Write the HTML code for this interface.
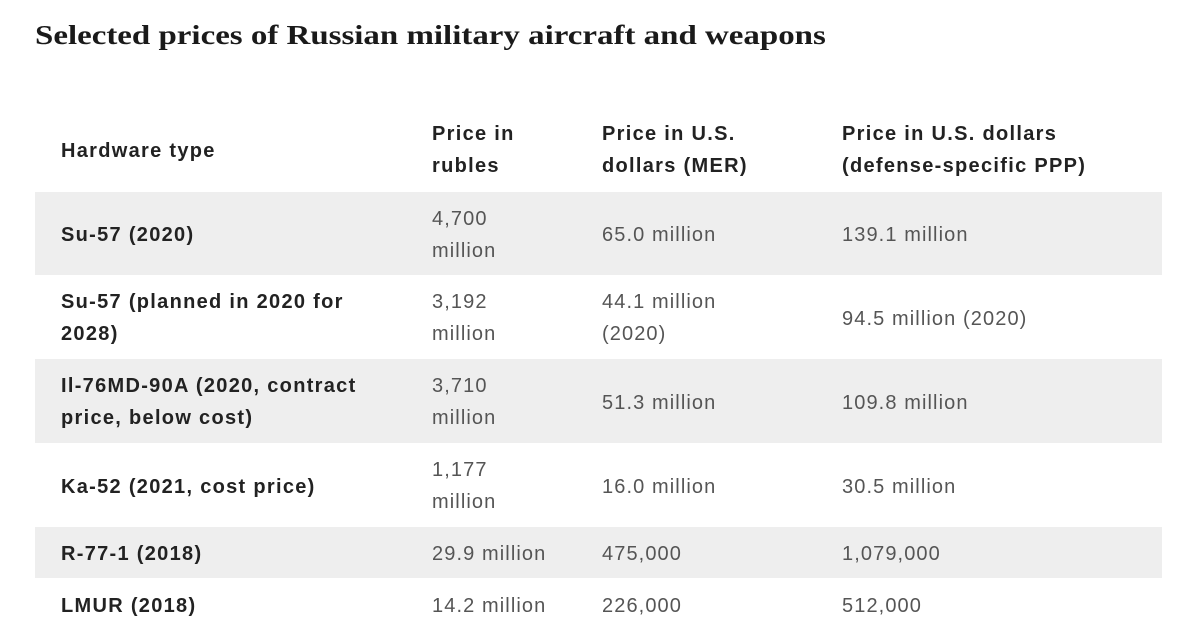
<!DOCTYPE html>
<html><head><meta charset="utf-8"><style>
body{margin:0;width:1200px;height:636px;background:#fff;position:relative;overflow:hidden;font-family:"Liberation Sans",Arial,sans-serif}
.t{position:absolute;font-size:20px;letter-spacing:1.1px;line-height:32px;color:#555;white-space:nowrap}
.h{color:#222;font-weight:bold;letter-spacing:1.3px}
.band{position:absolute;left:35px;width:1127px;background:#eeeeee}
h1{position:absolute;left:35px;top:20px;margin:0;font-family:"Liberation Serif",Georgia,serif;font-size:27px;font-weight:bold;color:#1a1a1a;white-space:nowrap;transform-origin:0 0;transform:scaleX(1.22)}
</style></head><body>
<h1>Selected prices of Russian military aircraft and weapons</h1>
<div class="band" style="top:192px;height:83px"></div>
<div class="band" style="top:359px;height:84px"></div>
<div class="band" style="top:527px;height:51px"></div>

<div class="t h" style="left:61px;top:135px">Hardware type</div>
<div class="t h" style="left:432px;top:118px">Price in<br>rubles</div>
<div class="t h" style="left:602px;top:118px">Price in U.S.<br>dollars (MER)</div>
<div class="t h" style="left:842px;top:118px">Price in U.S. dollars<br>(defense-specific PPP)</div>

<div class="t h" style="left:61px;top:219px">Su-57 (2020)</div>
<div class="t" style="left:432px;top:203px">4,700<br>million</div>
<div class="t" style="left:602px;top:219px">65.0 million</div>
<div class="t" style="left:842px;top:219px">139.1 million</div>

<div class="t h" style="left:61px;top:286px">Su-57 (planned in 2020 for<br>2028)</div>
<div class="t" style="left:432px;top:286px">3,192<br>million</div>
<div class="t" style="left:602px;top:286px">44.1 million<br>(2020)</div>
<div class="t" style="left:842px;top:303px">94.5 million (2020)</div>

<div class="t h" style="left:61px;top:370px">Il-76MD-90A (2020, contract<br>price, below cost)</div>
<div class="t" style="left:432px;top:370px">3,710<br>million</div>
<div class="t" style="left:602px;top:387px">51.3 million</div>
<div class="t" style="left:842px;top:387px">109.8 million</div>

<div class="t h" style="left:61px;top:471px">Ka-52 (2021, cost price)</div>
<div class="t" style="left:432px;top:454px">1,177<br>million</div>
<div class="t" style="left:602px;top:471px">16.0 million</div>
<div class="t" style="left:842px;top:471px">30.5 million</div>

<div class="t h" style="left:61px;top:538px">R-77-1 (2018)</div>
<div class="t" style="left:432px;top:538px">29.9 million</div>
<div class="t" style="left:602px;top:538px">475,000</div>
<div class="t" style="left:842px;top:538px">1,079,000</div>

<div class="t h" style="left:61px;top:590px">LMUR (2018)</div>
<div class="t" style="left:432px;top:590px">14.2 million</div>
<div class="t" style="left:602px;top:590px">226,000</div>
<div class="t" style="left:842px;top:590px">512,000</div>
</body></html>
